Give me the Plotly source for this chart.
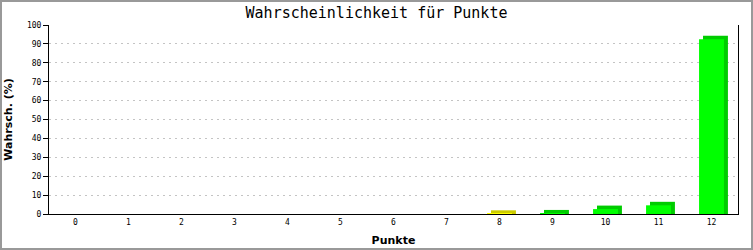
import plotly.graph_objects as go

# ---- data ----
categories = ["0", "1", "2", "3", "4", "5", "6", "7", "8", "9", "10", "11", "12"]
values = [0, 0, 0, 0, 0, 0, 0, 0, 0.1, 0.3, 2.6, 4.6, 92.4]
y_ticks = [0, 10, 20, 30, 40, 50, 60, 70, 80, 90, 100]

# ---- styles ----
front_colors = ["#00ff00"] * 8 + ["#ffff00"] + ["#00ff00"] * 4
side_colors = ["#00cc00"] * 8 + ["#cccc00"] + ["#00cc00"] * 4
BAR_W = 0.47
DX = 0.075   # 3D depth in category units
DY = 1.85    # 3D depth in value units

W, H = 753, 250
ML, MR, MT, MB = 49, 15, 25, 36
PW, PH = W - ML - MR, H - MT - MB

xs = list(range(len(categories)))
back_vals = [v + DY if v > 0 else 0 for v in values]

fig = go.Figure()
# 3D side/top (back face shifted right/up)
fig.add_trace(go.Bar(
    x=xs, y=back_vals, base=0, width=BAR_W, offset=-BAR_W / 2 + DX,
    marker=dict(color=side_colors, line=dict(width=0)),
    hoverinfo="skip", showlegend=False,
))
# front face
fig.add_trace(go.Bar(
    x=xs, y=values, base=0, width=BAR_W, offset=-BAR_W / 2,
    marker=dict(color=front_colors, line=dict(width=0)),
    showlegend=False,
))

fig.update_layout(
    width=W, height=H,
    margin=dict(l=ML, r=MR, t=MT, b=MB, pad=0, autoexpand=False),
    paper_bgcolor="white", plot_bgcolor="white",
    barmode="overlay",
    title=dict(
        text="Wahrscheinlichkeit für Punkte",
        x=0.5, xref="container", xanchor="center",
        y=1 - 13 / H, yref="container", yanchor="middle",
        font=dict(family="DejaVu Sans Mono", size=15, color="black"),
    ),
    xaxis=dict(
        range=[-0.5, len(categories) - 0.5],
        tickvals=xs, ticktext=categories,
        showgrid=False, zeroline=False, automargin=False,
        showline=True, linecolor="black", linewidth=1,
        ticks="", tickfont=dict(family="DejaVu Sans Mono", size=8, color="black"),
        title=dict(text="<b>Punkte</b>", standoff=10,
                   font=dict(family="DejaVu Sans", size=11, color="black")),
    ),
    yaxis=dict(
        range=[0, 100], tickvals=y_ticks,
        showgrid=True, gridcolor="#c4c4c4", griddash="2px,4px", gridwidth=1,
        zeroline=False, automargin=False,
        showline=True, mirror=True, linecolor="black", linewidth=1,
        ticks="outside", ticklen=5, tickcolor="black",
        tickfont=dict(family="DejaVu Sans Mono", size=8, color="black"),
        title=dict(text="<b>Wahrsch. (%)</b>", standoff=12,
                   font=dict(family="DejaVu Sans", size=11, color="black")),
    ),
    shapes=[dict(
        type="rect", xref="paper", yref="paper",
        x0=(1 - ML) / PW, x1=(W - 1 - ML) / PW,
        y0=(MT + PH - (H - 1)) / PH, y1=(MT + PH - 1) / PH,
        line=dict(color="#999999", width=2), fillcolor="rgba(0,0,0,0)",
        layer="above",
    )],
)

fig.write_html("out.html")
